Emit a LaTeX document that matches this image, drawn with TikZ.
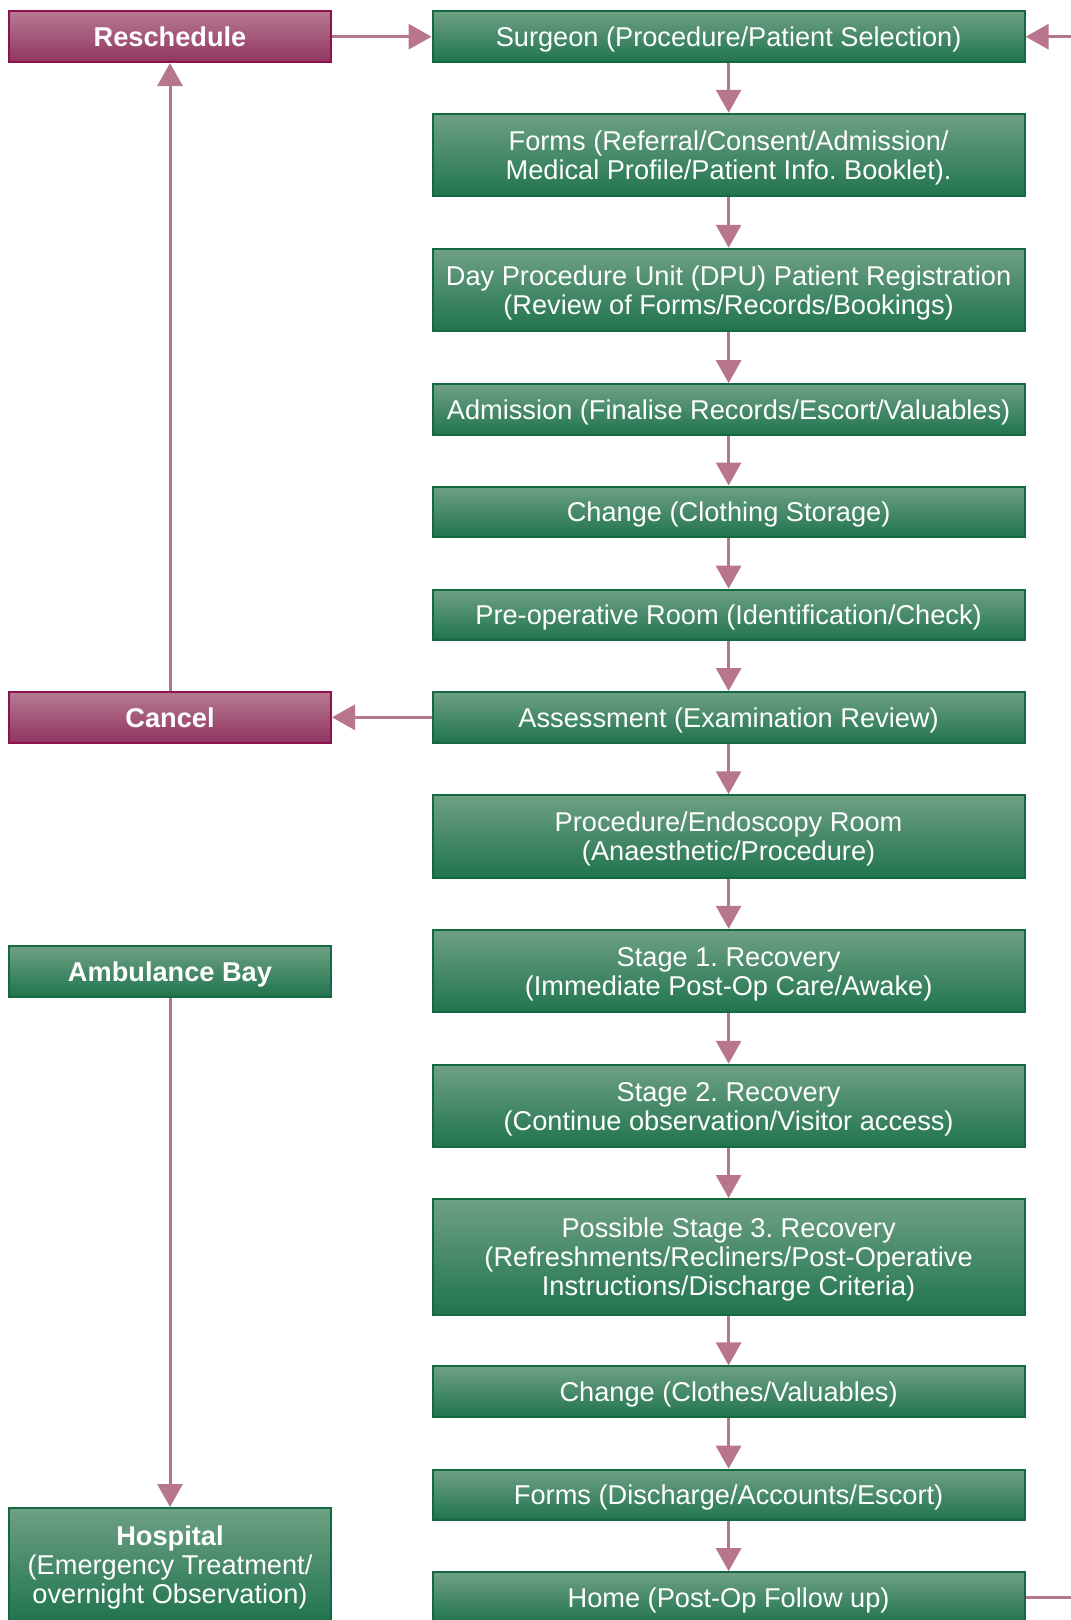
\documentclass[tikz,border=0pt]{standalone}
\usepackage{fontspec}
\setmainfont{Liberation Sans}
\usepackage{xcolor}
\usetikzlibrary{math,arrows.meta}
\definecolor{greentop}{RGB}{110,160,132}
\definecolor{greenbot}{RGB}{32,116,78}
\definecolor{greenline}{RGB}{20,105,65}
\definecolor{pinktop}{RGB}{182,122,146}
\definecolor{pinkbot}{RGB}{145,52,96}
\definecolor{pinkline}{RGB}{140,18,80}
\definecolor{flowpink}{RGB}{183,118,141}
\frenchspacing
\tikzset{
  box/.style={draw, line width=2pt, text=white, align=center, inner sep=0pt, text depth=0pt, font=\fontsize{27.2}{29}\selectfont},
  greenbox/.style={box, draw=greenline, top color=greentop, bottom color=greenbot},
  pinkbox/.style={box, draw=pinkline, top color=pinktop, bottom color=pinkbot},
  mainbox/.style={greenbox, minimum width=592pt},
  sidebox/.style={minimum width=322pt, font=\fontsize{27.2}{29}\selectfont\bfseries},
  flow/.style={draw=flowpink, line width=3pt, -{Triangle[width=25pt,length=23pt]}}
}

\begin{document}
\begin{tikzpicture}[x=1pt,y=-1pt]
      \tikzmath{\l = 170; \r = 728.6; \one = 50.6; \two = 82.5; \three = 116;}
      \clip (0,0) rectangle (1071,1620);
      \node[mainbox, minimum height=\one] (surgeon) at (\r,36.7) {Surgeon (Procedure/Patient Selection)};
      \node[mainbox, minimum height=\two] (forms) at (\r,155) {Forms (Referral/Consent/Admission/\\Medical Profile/Patient Info. Booklet).};
      \node[mainbox, minimum height=\two] (dpu) at (\r,290) {Day Procedure Unit (DPU) Patient Registration\\(Review of Forms/Records/Bookings)};
      \node[mainbox, minimum height=\one] (admission) at (\r,409.5) {Admission (Finalise Records/Escort/Valuables)};
      \node[mainbox, minimum height=\one] (change) at (\r,511.8) {Change (Clothing Storage)};
      \node[mainbox, minimum height=\one] (preop) at (\r,615) {Pre-operative Room (Identification/Check)};
      \node[mainbox, minimum height=\one] (assess) at (\r,717.3) {Assessment (Examination Review)};
      \node[mainbox, minimum height=\two] (procroom) at (\r,836.5) {Procedure/Endoscopy Room\\(Anaesthetic/Procedure)};
      \node[mainbox, minimum height=\two] (stageone) at (\r,971) {Stage 1. Recovery\\(Immediate Post-Op Care/Awake)};
      \node[mainbox, minimum height=\two] (stagetwo) at (\r,1106) {Stage 2. Recovery\\(Continue observation/Visitor access)};
      \node[mainbox, minimum height=\three] (stagethree) at (\r,1257) {Possible Stage 3. Recovery\\(Refreshments/Recliners/Post-Operative\\Instructions/Discharge Criteria)};
      \node[mainbox, minimum height=\one] (changeback) at (\r,1391.7) {Change (Clothes/Valuables)};
      \node[mainbox, minimum height=\one] (discharge) at (\r,1495) {Forms (Discharge/Accounts/Escort)};
      \node[mainbox, minimum height=\one] (home) at (\r,1597.5) {Home (Post-Op Follow up)};
      \node[pinkbox, sidebox, minimum height=\one] (reschedule) at (\l,36.7) {Reschedule};
      \node[pinkbox, sidebox, minimum height=\one] (cancel) at (\l,717.3) {Cancel};
      \node[greenbox, sidebox, minimum height=\one] (ambulance) at (\l,971.5) {Ambulance Bay};
      \node[greenbox, sidebox, minimum height=114] (hospital) at (\l,1565) {Hospital\\\mdseries(Emergency Treatment/\\\mdseries overnight Observation)};
      \foreach \a/\b in {surgeon/forms, forms/dpu, dpu/admission, admission/change, change/preop, preop/assess, assess/procroom, procroom/stageone, stageone/stagetwo, stagetwo/stagethree, stagethree/changeback, changeback/discharge, discharge/home}
        \draw[flow] (\a) -- (\b);
      \draw[flow] (reschedule) -- (surgeon);
      \draw[flow] (assess) -- (cancel);
      \draw[flow] (cancel) -- (reschedule);
      \draw[flow] (ambulance) -- (hospital);
      \draw[flow] (home.east) -- ++(80,0) |- (surgeon.east);
    \end{tikzpicture}
\end{document}
